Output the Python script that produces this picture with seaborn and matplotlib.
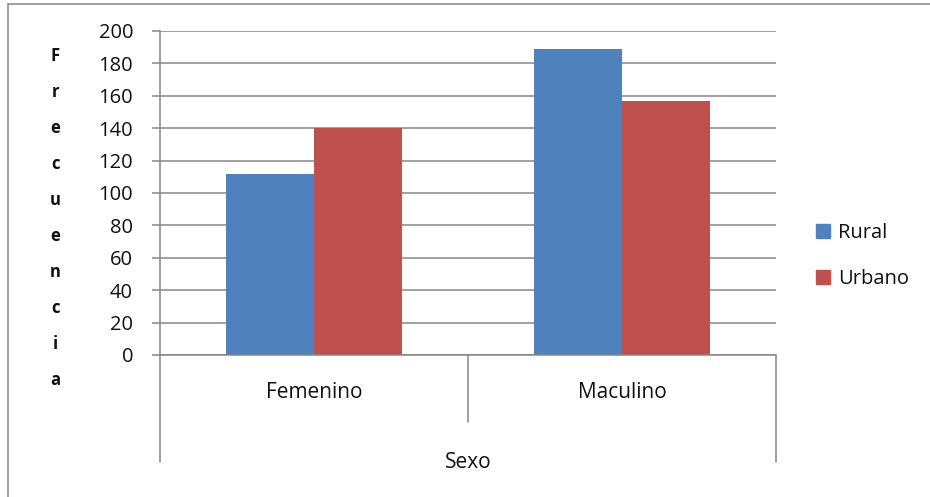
import matplotlib
matplotlib.use("Agg")
import matplotlib.pyplot as plt
import matplotlib.transforms as mtransforms
import seaborn as sns
import pandas as pd

# Frecuencia por sexo y zona
categorias = ["Femenino", "Maculino"]
zonas = ["Rural", "Urbano"]
rural = [112, 189]
urbano = [140, 157]
ticks_y = [0, 20, 40, 60, 80, 100, 120, 140, 160, 180, 200]
colores = ["#4F81BD", "#C0504D"]

df = pd.DataFrame({
    "Sexo": categorias * 2,
    "Zona": [zonas[0]] * 2 + [zonas[1]] * 2,
    "Frecuencia": rural + urbano,
})

sns.set_theme(style="white")
plt.rcParams["font.family"] = ["Open Sans", "DejaVu Sans"]

W, H = 930, 497
fig = plt.figure(figsize=(W / 100, H / 100), dpi=100)
PT = 72 / 100  # points per pixel

def fx(x):
    return x / W

def fy(y):
    return 1 - y / H

# plot area in pixel coordinates
L, R, T, B = 160, 776, 31, 355
ax = fig.add_axes([fx(L), fy(B), (R - L) / W, (B - T) / H])

sns.barplot(data=df, x="Sexo", y="Frecuencia", hue="Zona", order=categorias,
            hue_order=zonas, palette=colores, saturation=1, width=0.57,
            linewidth=0, ax=ax, legend=False)

grey = "#868686"
text_col = "#111111"
lw = 1.1
ax.set_ylim(0, 200)
ax.set_xlim(-0.5, 1.5)
ax.set_yticks(ticks_y)
ax.set_yticklabels([str(t) for t in ticks_y], fontsize=14.5, color=text_col)
ax.yaxis.grid(True, color=grey, linewidth=lw)
ax.set_axisbelow(True)
ax.tick_params(axis="y", length=8 * PT, width=lw, color=grey,
               pad=19 * PT, left=True)
ax.tick_params(axis="x", bottom=False, labelbottom=False)
for s in ["top", "right", "bottom"]:
    ax.spines[s].set_visible(False)
ax.spines["left"].set_color(grey)
ax.spines["left"].set_linewidth(lw)
ax.set_xlabel("")

# stacked vertical axis title
ax.set_ylabel("\n".join("Frecuencia"), rotation=0, fontsize=12,
              fontweight="bold", linespacing=2.28, color=text_col,
              va="center", ha="center")
ax.yaxis.set_label_coords((55 - L) / (R - L), (B - 218) / (B - T))

# multi-level category axis below the plot area
line_kw = dict(color=grey, linewidth=lw, transform=fig.transFigure,
               clip_on=False)
fig.add_artist(plt.Line2D([fx(L), fx(L)], [fy(B), fy(462)], **line_kw))
fig.add_artist(plt.Line2D([fx(R), fx(R)], [fy(B), fy(462)], **line_kw))
fig.add_artist(plt.Line2D([fx(468), fx(468)], [fy(B), fy(422)], **line_kw))
fig.add_artist(plt.Line2D([fx(L), fx(R)], [fy(B), fy(B)], **line_kw))

cat_trans = mtransforms.blended_transform_factory(ax.transData,
                                                  fig.transFigure)
for i, c in enumerate(categorias):
    ax.text(i, fy(393), c, transform=cat_trans, ha="center", va="center",
            fontsize=15, color=text_col)
fig.text(fx(468), fy(463), "Sexo", ha="center", va="center",
         fontsize=15, color=text_col)

# legend
handles = [plt.Rectangle((0, 0), 1, 1, color=c) for c in colores]
fig.legend(handles, zonas, loc="upper left",
           bbox_to_anchor=(fx(816), fy(223)), frameon=False, fontsize=14.5,
           handlelength=0.7, handleheight=0.7, handletextpad=0.38,
           labelspacing=1.3, borderpad=0, borderaxespad=0,
           labelcolor=text_col)

# chart frame
fig.add_artist(plt.Line2D([fx(8), fx(8)], [fy(4), fy(497)], **line_kw))
fig.add_artist(plt.Line2D([fx(8), fx(930)], [fy(4), fy(4)], **line_kw))

fig.savefig("out.png", dpi=100)
